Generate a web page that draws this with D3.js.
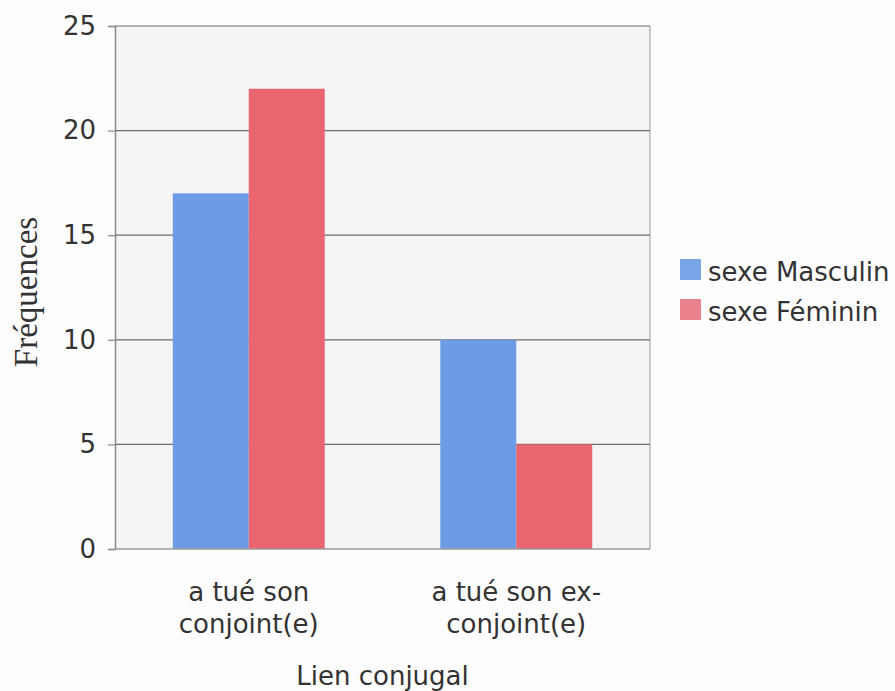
<!DOCTYPE html>
<html>
<head>
<meta charset="utf-8">
<script src="https://cdn.jsdelivr.net/npm/d3@7"></script>
<style>
  html, body { margin: 0; padding: 0; background: #fdfdfd; }
  svg text { font-family: "DejaVu Sans", Verdana, sans-serif; fill: #333; }
</style>
</head>
<body>
<svg id="chart" width="895" height="691"></svg>
<script>
// Categories (two-line labels) and series
const categories = ["a tué son conjoint(e)", "a tué son ex-conjoint(e)"];
const categoryLines = [["a tué son", "conjoint(e)"], ["a tué son ex-", "conjoint(e)"]];
const seriesNames = ["sexe Masculin", "sexe Féminin"];
const masculin = [17, 10];
const feminin = [22, 5];
const yTicks = [0, 5, 10, 15, 20, 25];
const colors = ["#6e9be6", "#e9656f"];
const legendColors = ["#7ba4e6", "#e9828a"];

const svg = d3.select("#chart");
const margin = { left: 115, right: 245, top: 26, bottom: 142 };
const W = 895, H = 691;
const plotW = W - margin.left - margin.right;
const plotH = H - margin.top - margin.bottom;

const g = svg.append("g").attr("transform", `translate(${margin.left},${margin.top})`);

const x0 = d3.scaleBand().domain(categories).range([0, plotW])
  .paddingInner(0.432).paddingOuter(0.216);
const x1 = d3.scaleBand().domain(seriesNames).range([0, x0.bandwidth()]);
const y = d3.scaleLinear().domain([0, 25]).range([plotH, 0]);

// plot background
g.append("rect").attr("width", plotW).attr("height", plotH).attr("fill", "#f5f5f5");

// right border
g.append("line").attr("x1", plotW).attr("x2", plotW).attr("y1", 0).attr("y2", plotH)
  .attr("stroke", "#a8a8a8").attr("stroke-width", 1.2);

// gridlines
g.selectAll(".grid").data(yTicks.filter(d => d > 0)).join("line")
  .attr("x1", 0).attr("x2", plotW)
  .attr("y1", d => y(d)).attr("y2", d => y(d))
  .attr("stroke", "#6e6e6e").attr("stroke-width", 1.2);

// bars
const data = categories.map((c, i) => ({ cat: c, vals: [masculin[i], feminin[i]] }));
const grp = g.selectAll(".grp").data(data).join("g")
  .attr("transform", d => `translate(${x0(d.cat)},0)`);
grp.selectAll("rect").data(d => d.vals.map((v, j) => ({ v, s: seriesNames[j], j })))
  .join("rect")
  .attr("x", d => x1(d.s)).attr("width", x1.bandwidth())
  .attr("y", d => y(d.v)).attr("height", d => plotH - y(d.v))
  .attr("fill", d => colors[d.j]);

// y axis
const yAxis = g.append("g").call(d3.axisLeft(y).tickValues(yTicks).tickSize(7).tickPadding(12));
yAxis.select(".domain").attr("stroke", "#8a8a8a").attr("stroke-width", 1.5);
yAxis.selectAll(".tick line").attr("stroke", "#8a8a8a").attr("stroke-width", 1.2);
yAxis.selectAll(".tick text").style("font-size", "26px").attr("fill", "#333")
  .style("font-family", "'DejaVu Sans', Verdana, sans-serif");

// bottom axis line
g.append("line").attr("x1", 0).attr("x2", plotW).attr("y1", plotH).attr("y2", plotH)
  .attr("stroke", "#9a9a9a").attr("stroke-width", 1.5);

// x category labels
const xl = g.selectAll(".xlab").data(categories).join("text")
  .attr("text-anchor", "middle")
  .attr("transform", d => `translate(${x0(d) + x0.bandwidth() / 2},${plotH + 52})`)
  .style("font-size", "26px");
xl.selectAll("tspan").data((d, i) => categoryLines[i]).join("tspan")
  .attr("x", 0).attr("dy", (d, i) => i === 0 ? 0 : 32).text(d => d);

// x axis title
g.append("text").attr("x", plotW / 2).attr("y", plotH + 136)
  .attr("text-anchor", "middle").style("font-size", "26px").text("Lien conjugal");

// y axis title (serif)
svg.append("text")
  .attr("transform", `translate(37,292) rotate(-90)`)
  .attr("text-anchor", "middle")
  .style("font-family", "'Liberation Serif', 'Times New Roman', serif")
  .style("font-size", "33px").attr("fill", "#333").text("Fréquences");

// legend
const leg = svg.append("g").attr("transform", "translate(680,259)");
seriesNames.forEach((s, i) => {
  const row = leg.append("g").attr("transform", `translate(0,${i * 40})`);
  row.append("rect").attr("width", 21).attr("height", 21).attr("fill", legendColors[i]);
  row.append("text").attr("x", 28).attr("y", 22).style("font-size", "26px").text(s);
});
</script>
</body>
</html>
